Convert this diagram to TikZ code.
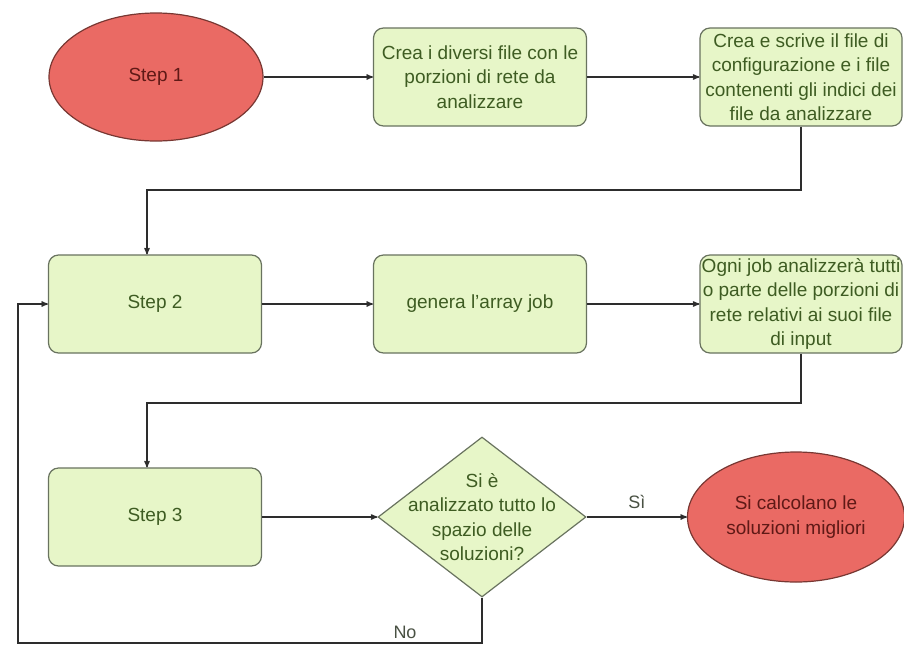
\documentclass[tikz,border=0pt]{standalone}
\usepackage{fontspec}
\setmainfont{Liberation Sans}
\usetikzlibrary{arrows}
\usetikzlibrary{shapes.geometric}
\definecolor{boxfill}{RGB}{231,246,200}
\definecolor{boxline}{RGB}{105,115,95}
\definecolor{boxtext}{RGB}{62,92,34}
\definecolor{endfill}{RGB}{234,106,100}
\definecolor{endline}{RGB}{120,55,50}
\definecolor{endtext}{RGB}{95,25,22}
\definecolor{wire}{RGB}{45,45,45}
\tikzset{
 stepbox/.style={draw=boxline, fill=boxfill, text=boxtext, rounded corners=10pt, line width=1.2pt,
   minimum width=213pt, minimum height=98pt, align=center, inner sep=1pt,
   font=\fontsize{19}{24.5}\selectfont},
 endpoint/.style={ellipse, draw=endline, fill=endfill, text=endtext, line width=1.2pt,
   minimum width=214pt, minimum height=128pt, align=center, inner sep=0pt,
   font=\fontsize{19}{24.5}\selectfont},
 choice/.style={diamond, draw=boxline, fill=boxfill, line width=1.2pt,
   minimum width=208pt, minimum height=160pt, inner sep=0pt},
 choicetext/.style={text=boxtext, align=center, font=\fontsize{19}{24.5}\selectfont},
 wire/.style={draw=wire, line width=1.3pt, ->, >=stealth'},
 tag/.style={font=\fontsize{18}{20}\selectfont, text=boxline!70!black},
}
\begin{document}
\begin{tikzpicture}[x=1pt,y=-1pt]
\useasboundingbox[fill=white] (0,0) rectangle (904,646);
% first row
\node[endpoint] (s1) at (156,77) {Step 1};
\node[stepbox] (parts) at (480,77) {Crea i diversi file con le\\porzioni di rete da\\analizzare};
\node[stepbox, minimum width=202pt] (config) at (801,77) {Crea e scrive il file di\\configurazione e i file\\contenenti gli indici dei\\file da analizzare};
% second row
\node[stepbox] (s2) at (155,304) {Step 2};
\node[stepbox] (array) at (480,304) {genera l'array job};
\node[stepbox, minimum width=202pt] (jobs) at (801,304) {Ogni job analizzerà tutti\\o parte delle porzioni di\\rete relativi ai suoi file\\di input};
% third row
\node[stepbox] (s3) at (155,517) {Step 3};
\node[choice, label={[choicetext]center:{Si è\\analizzato tutto lo\\spazio delle\\soluzioni?}}] (check) at (482,517) {};
\node[endpoint, minimum width=217pt, minimum height=130pt] (best) at (796,517) {Si calcolano le\\soluzioni migliori};
% bends
\coordinate (bend1) at (147,190);
\coordinate (bend2) at (147,403);
\coordinate (back) at (18,643);
\draw[wire] (s1) -- (parts);
\draw[wire] (parts) -- (config);
\draw[wire] (config.south) |- (bend1) -- (bend1 |- s2.north);
\draw[wire] (s2) -- (array);
\draw[wire] (array) -- (jobs);
\draw[wire] (jobs.south) |- (bend2) -- (bend2 |- s3.north);
\draw[wire] (s3) -- (check);
\draw[wire] (check) -- node[tag, above, yshift=4pt]{Sì} (best);
\draw[wire] (check.south) |- (back) |- (s2.west);
\node[tag] (no) at (405,632) {No};
\end{tikzpicture}
\end{document}
